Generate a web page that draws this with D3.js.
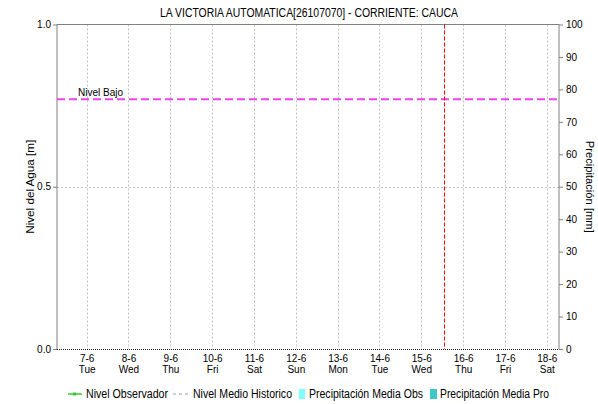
<!DOCTYPE html>
<html><head><meta charset="utf-8">
<script src="https://cdn.jsdelivr.net/npm/d3@7"></script>
<style>
body{margin:0;background:#fff;}
text{font-family:"Liberation Sans",Arial,sans-serif;fill:#000;}
</style></head><body>
<svg id="c" width="598" height="404"></svg>
<script>
const title = "LA VICTORIA AUTOMATICA[26107070] - CORRIENTE: CAUCA";
const dayTicks = ["2022-06-07","2022-06-08","2022-06-09","2022-06-10","2022-06-11","2022-06-12","2022-06-13","2022-06-14","2022-06-15","2022-06-16","2022-06-17","2022-06-18"];
const dayNames = ["Tue","Wed","Thu","Fri","Sat","Sun","Mon","Tue","Wed","Thu","Fri","Sat"];
const domainStart = "2022-06-06T07:00";
const domainEnd = "2022-06-18T07:00";
const nowMarker = "2022-06-15T13:00";
const nivelBajo = 0.77;
const leftTicks = [0, 0.5, 1.0];
const rightTicks = [0,10,20,30,40,50,60,70,80,90,100];
const precipDates = ["2022-06-06T07:00","2022-06-18T07:00"];
const precipValues = [0, 0];
const legendItems = ["Nivel Observador","Nivel Medio Historico","Precipitación Media Obs","Precipitación Media Pro"];

const svg = d3.select("#c");
const L=57, R=559, T=24.5, B=349;
const parse = s => new Date(s);
const x = d3.scaleTime().domain([parse(domainStart), parse(domainEnd)]).range([L,R]);
const yL = d3.scaleLinear().domain([0,1]).range([B,T]);
const yR = d3.scaleLinear().domain([0,100]).range([B,T]);

// title
svg.append("text").attr("x",309).attr("y",17).attr("text-anchor","middle").attr("font-size","12px")
  .attr("textLength",298).attr("lengthAdjust","spacingAndGlyphs").text(title);

// vertical grid
svg.append("g").selectAll("line").data(dayTicks).join("line")
  .attr("x1",d=>Math.round(x(parse(d+"T00:00")))+0.5).attr("x2",d=>Math.round(x(parse(d+"T00:00")))+0.5)
  .attr("y1",T).attr("y2",B).attr("stroke","#c0c0c0").attr("stroke-dasharray","2,2");
// horizontal grid
svg.append("g").selectAll("line").data([0.5]).join("line")
  .attr("x1",L).attr("x2",R).attr("y1",d=>Math.round(yL(d))+0.5).attr("y2",d=>Math.round(yL(d))+0.5)
  .attr("stroke","#c0c0c0").attr("stroke-dasharray","2,2");

// frame lines
svg.append("line").attr("x1",L).attr("x2",R).attr("y1",T).attr("y2",T).attr("stroke","#808080");
svg.append("line").attr("x1",L).attr("x2",L).attr("y1",T).attr("y2",B).attr("stroke","#808080");
svg.append("line").attr("x1",R).attr("x2",R).attr("y1",T).attr("y2",B).attr("stroke","#808080");

// left axis
const gL = svg.append("g").attr("transform",`translate(${L},0)`)
  .call(d3.axisLeft(yL).tickValues(leftTicks).tickFormat(d3.format(".1f")).tickSize(4).tickPadding(2));
gL.select(".domain").remove();
gL.selectAll(".tick line").attr("stroke","#808080");
gL.selectAll("text").attr("font-size","10px").attr("font-family","Liberation Sans, Arial");

// right axis
const gR = svg.append("g").attr("transform",`translate(${R},0)`)
  .call(d3.axisRight(yR).tickValues(rightTicks).tickSize(4).tickPadding(3));
gR.select(".domain").remove();
gR.selectAll(".tick line").attr("stroke","#808080");
gR.selectAll("text").attr("font-size","10px").attr("font-family","Liberation Sans, Arial");

// bottom axis
const gB = svg.append("g").attr("transform",`translate(0,${B})`)
  .call(d3.axisBottom(x).tickValues(dayTicks.map(d=>parse(d+"T00:00"))).tickSize(0).tickFormat(""));
gB.select(".domain").remove();
gB.selectAll(".tick").each(function(d,i){
  const t = d3.select(this).append("text").attr("text-anchor","middle").attr("font-size","10px").attr("fill","#000");
  t.append("tspan").attr("x",0).attr("y",13).text(dayTicks[i].slice(8,10).replace(/^0/,"")+"-"+(+dayTicks[i].slice(5,7)));
  t.append("tspan").attr("x",0).attr("y",24).text(dayNames[i]);
});

// precipitation baseline (dotted)
const line = d3.line().x((d,i)=>x(parse(precipDates[i]))).y(d=>Math.round(yR(d))+0.5);
svg.append("path").datum(precipValues).attr("d",line).attr("fill","none")
  .attr("stroke","#202020").attr("stroke-dasharray","1,1");

// Nivel Bajo
svg.append("line").attr("x1",L).attr("x2",R).attr("y1",yL(nivelBajo)).attr("y2",yL(nivelBajo))
  .attr("stroke","#f040f0").attr("stroke-width",2).attr("stroke-dasharray","8,4");
svg.append("text").attr("x",78).attr("y",yL(nivelBajo)-3).attr("font-size","10px").text("Nivel Bajo");

// now marker
svg.append("line").attr("x1",Math.round(x(parse(nowMarker)))+0.5).attr("x2",Math.round(x(parse(nowMarker)))+0.5)
  .attr("y1",T).attr("y2",B).attr("stroke","#ff0000").attr("stroke-dasharray","4,2");

// axis titles
svg.append("text").attr("transform",`translate(34,${(T+B)/2}) rotate(-90)`).attr("text-anchor","middle")
  .attr("font-size","11px").attr("textLength",94).attr("lengthAdjust","spacingAndGlyphs").text("Nivel del Agua [m]");
svg.append("text").attr("transform",`translate(586,${(T+B)/2}) rotate(90)`).attr("text-anchor","middle")
  .attr("font-size","11px").attr("textLength",92).attr("lengthAdjust","spacingAndGlyphs").text("Precipitación [mm]");

// legend
const lg = svg.append("g");
const ly = 394;
const lt = (xx, w, s) => lg.append("text").attr("x",xx).attr("y",ly+4).attr("font-size","12px")
  .attr("textLength",w).attr("lengthAdjust","spacingAndGlyphs").text(s);
lg.append("line").attr("x1",68).attr("x2",82).attr("y1",ly).attr("y2",ly).attr("stroke","#33cc33").attr("stroke-width",1.5);
lg.append("rect").attr("x",73).attr("y",ly-1.5).attr("width",3).attr("height",3).attr("fill","#33cc33");
lt(86, 82, legendItems[0]);
lg.append("line").attr("x1",173).attr("x2",189).attr("y1",ly).attr("y2",ly).attr("stroke","#c0c0c0").attr("stroke-width",1.5).attr("stroke-dasharray","3,3");
lt(193, 99, legendItems[1]);
lg.append("rect").attr("x",299).attr("y",ly-5).attr("width",6).attr("height",10).attr("fill","#80ffff");
lt(309, 114, legendItems[2]);
lg.append("rect").attr("x",430).attr("y",ly-5).attr("width",7).attr("height",10).attr("fill","#40c8c8");
lt(440, 109, legendItems[3]);
</script>
</body></html>
